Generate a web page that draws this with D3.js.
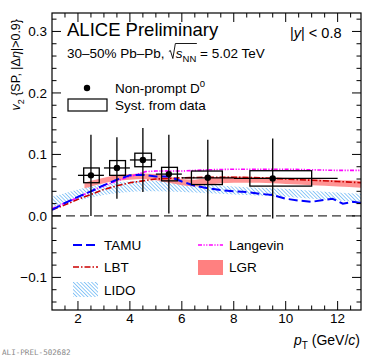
<!DOCTYPE html>
<html>
<head>
<meta charset="utf-8">
<script src="https://cdn.jsdelivr.net/npm/d3@7"></script>
<style>
  body { margin: 0; background: #fff; }
  text { font-family: "Liberation Sans", Arial, Helvetica, sans-serif; fill: #000; white-space: pre; }
</style>
</head>
<body>
<svg id="chart" width="374" height="357"></svg>
<script>
// data
const ptCenter = [2.5, 3.5, 4.5, 5.5, 7, 9.5];
const ptLow = [2, 3, 4, 5, 6, 8];
const ptHigh = [3, 4, 5, 6, 8, 12];
const v2 = [0.066, 0.078, 0.091, 0.068, 0.062, 0.061];
const statErr = [0.066, 0.050, 0.052, 0.064, 0.062, 0.065];
const systErr = [0.012, 0.012, 0.011, 0.011, 0.011, 0.0125];
const systBoxLow = [2.22, 3.22, 4.19, 5.22, 6.37, 8.62];
const systBoxHigh = [2.82, 3.83, 4.83, 5.83, 7.56, 11.0];

const tamuPt = [1, 1.5, 2, 2.5, 3, 3.5, 4, 4.5, 5, 5.5, 6, 6.5, 7, 7.5, 8, 8.5, 9, 9.5, 10, 10.5, 11, 11.5, 11.8, 12.2, 12.6, 12.9];
const tamuV2 = [0.010, 0.021, 0.031, 0.040, 0.050, 0.059, 0.066, 0.067, 0.064, 0.064, 0.056, 0.049, 0.045, 0.042, 0.040, 0.039, 0.036, 0.034, 0.028, 0.025, 0.023, 0.026, 0.028, 0.020, 0.023, 0.021];

const lbtPt = [1, 1.5, 2, 2.5, 3, 3.5, 4, 4.5, 5, 5.5, 6, 7, 8, 9, 10, 11, 12, 12.9];
const lbtV2 = [0.010, 0.018, 0.027, 0.035, 0.043, 0.049, 0.054, 0.057, 0.060, 0.061, 0.062, 0.063, 0.063, 0.062, 0.060, 0.058, 0.056, 0.054];

const langevinPt = [1, 1.5, 2, 2.5, 3, 3.5, 4, 4.3, 4.6, 5, 6, 7, 8, 9, 10, 11, 12, 12.9];
const langevinV2 = [0.012, 0.021, 0.030, 0.040, 0.049, 0.057, 0.064, 0.068, 0.072, 0.073, 0.073, 0.075, 0.076, 0.076, 0.076, 0.075, 0.074, 0.074];

const lidoPt = [1, 1.5, 2, 2.5, 3, 3.5, 4, 4.5, 5, 6, 7, 8, 9, 10, 11, 12, 12.9];
const lidoLow = [0.015, 0.020, 0.025, 0.030, 0.034, 0.037, 0.039, 0.040, 0.040, 0.039, 0.037, 0.035, 0.033, 0.031, 0.028, 0.025, 0.023];
const lidoHigh = [0.031, 0.037, 0.043, 0.048, 0.052, 0.055, 0.056, 0.057, 0.057, 0.054, 0.051, 0.048, 0.046, 0.044, 0.041, 0.038, 0.036];

const lgrPt = [2.25, 2.5, 3, 3.5, 4, 4.5, 5, 5.5, 6, 6.5, 7, 8, 9, 10, 11, 12, 12.9];
const lgrLow = [0.045, 0.048, 0.053, 0.057, 0.059, 0.060, 0.058, 0.054, 0.050, 0.048, 0.051, 0.054, 0.054, 0.052, 0.050, 0.048, 0.046];
const lgrHigh = [0.054, 0.057, 0.062, 0.066, 0.068, 0.069, 0.068, 0.064, 0.060, 0.059, 0.062, 0.064, 0.063, 0.062, 0.060, 0.058, 0.057];

const xTicks = [2, 4, 6, 8, 10, 12];
const yTicks = [-0.1, 0.0, 0.1, 0.2, 0.3];

const svg = d3.select("#chart");
const padL = 52, padR = 361, padT = 13, padB = 310;

const x = d3.scaleLinear().domain([1, 12.9]).range([padL, padR]);
const y = d3.scaleLinear().domain([-0.153, 0.33]).range([padB, padT]);

const defs = svg.append("defs");
defs.append("clipPath").attr("id", "plotclip")
  .append("rect").attr("x", padL).attr("y", padT).attr("width", padR - padL).attr("height", padB - padT);

const hatch = defs.append("pattern")
  .attr("id", "hatch")
  .attr("patternUnits", "userSpaceOnUse")
  .attr("width", 2.6).attr("height", 2.6)
  .attr("patternTransform", "rotate(-45)");
hatch.append("line")
  .attr("x1", 0).attr("y1", 0).attr("x2", 0).attr("y2", 2.6)
  .attr("stroke", "#4aa6f2").attr("stroke-width", 1.2);

// lay out a run of text pieces one after another, returns end x
function textRun(g, x0, y0, parts, size) {
  let cx = x0;
  parts.forEach(function(p) {
    const t = g.append("text")
      .attr("x", cx)
      .attr("y", y0 + (p.dy || 0))
      .style("font-size", (p.size || size) + "px")
      .style("font-style", p.italic ? "italic" : null)
      .text(p.t);
    p.x0 = cx;
    cx += t.node().getComputedTextLength();
    p.x1 = cx;
  });
  return cx;
}

// ---- plot contents ----
const plot = svg.append("g").attr("clip-path", "url(#plotclip)");

const lidoArea = d3.area()
  .x((d, i) => x(lidoPt[i]))
  .y0((d, i) => y(lidoLow[i]))
  .y1((d, i) => y(lidoHigh[i]))
  .curve(d3.curveMonotoneX);
plot.append("path").datum(lidoPt).attr("d", lidoArea).attr("fill", "url(#hatch)");

const lgrArea = d3.area()
  .x((d, i) => x(lgrPt[i]))
  .y0((d, i) => y(lgrLow[i]))
  .y1((d, i) => y(lgrHigh[i]))
  .curve(d3.curveMonotoneX);
plot.append("path").datum(lgrPt).attr("d", lgrArea).attr("fill", "#ff8080").attr("opacity", 0.85);

// zero line
plot.append("line")
  .attr("x1", padL).attr("x2", padR)
  .attr("y1", y(0)).attr("y2", y(0))
  .attr("stroke", "#000").attr("stroke-width", 1)
  .attr("stroke-dasharray", "9,5");

function modelLine(pts, vals, color, dash, width) {
  const line = d3.line()
    .x((d, i) => x(pts[i]))
    .y((d, i) => y(vals[i]));
  plot.append("path").datum(pts)
    .attr("d", line)
    .attr("fill", "none")
    .attr("stroke", color)
    .attr("stroke-width", width)
    .attr("stroke-dasharray", dash);
}
modelLine(lbtPt, lbtV2, "#cc0000", "6,2,1.5,2", 1.6);
modelLine(langevinPt, langevinV2, "#ff00ff", "4,1.5,1.2,1.5,1.2,1.5", 1.6);
modelLine(tamuPt, tamuV2, "#0000ff", "9,4", 2);

// data points
const pts = d3.range(v2.length);
plot.selectAll(".syst").data(pts).enter().append("rect")
  .attr("x", i => x(systBoxLow[i]))
  .attr("width", i => x(systBoxHigh[i]) - x(systBoxLow[i]))
  .attr("y", i => y(v2[i] + systErr[i]))
  .attr("height", i => y(v2[i] - systErr[i]) - y(v2[i] + systErr[i]))
  .attr("fill", "none").attr("stroke", "#000").attr("stroke-width", 1.3);

plot.selectAll(".ey").data(pts).enter().append("line")
  .attr("x1", i => x(ptCenter[i])).attr("x2", i => x(ptCenter[i]))
  .attr("y1", i => y(v2[i] + statErr[i])).attr("y2", i => y(v2[i] - statErr[i]))
  .attr("stroke", "#000").attr("stroke-width", 1.3);

plot.selectAll(".ex").data(pts).enter().append("line")
  .attr("x1", i => x(ptLow[i])).attr("x2", i => x(ptHigh[i]))
  .attr("y1", i => y(v2[i])).attr("y2", i => y(v2[i]))
  .attr("stroke", "#000").attr("stroke-width", 1.3);

plot.selectAll(".pt").data(pts).enter().append("circle")
  .attr("cx", i => x(ptCenter[i])).attr("cy", i => y(v2[i]))
  .attr("r", 3.2).attr("fill", "#000");

// ---- frame and ticks ----
svg.append("rect")
  .attr("x", padL).attr("y", padT).attr("width", padR - padL).attr("height", padB - padT)
  .attr("fill", "none").attr("stroke", "#000").attr("stroke-width", 1.2);

const xMinor = d3.range(1.5, 12.9, 0.5).filter(v => xTicks.indexOf(v) < 0);
const yMinor = d3.range(-0.14, 0.33, 0.02).filter(v => !yTicks.some(t => Math.abs(t - v) < 1e-6));

const tickG = svg.append("g").attr("stroke", "#000").attr("stroke-width", 1);
function vTicks(vals, len) {
  vals.forEach(function(v) {
    tickG.append("line").attr("x1", x(v)).attr("x2", x(v)).attr("y1", padB).attr("y2", padB - len);
    tickG.append("line").attr("x1", x(v)).attr("x2", x(v)).attr("y1", padT).attr("y2", padT + len);
  });
}
function hTicks(vals, len) {
  vals.forEach(function(v) {
    tickG.append("line").attr("x1", padL).attr("x2", padL + len).attr("y1", y(v)).attr("y2", y(v));
    tickG.append("line").attr("x1", padR).attr("x2", padR - len).attr("y1", y(v)).attr("y2", y(v));
  });
}
vTicks(xTicks, 9);
vTicks(xMinor, 4.5);
hTicks(yTicks, 9);
hTicks(yMinor, 4.5);

svg.append("g").selectAll("text").data(xTicks).enter().append("text")
  .attr("x", d => x(d)).attr("y", 323)
  .attr("text-anchor", "middle")
  .style("font-size", "13.5px")
  .text(d => d);

svg.append("g").selectAll("text").data(yTicks).enter().append("text")
  .attr("x", 47).attr("y", d => y(d) + 5)
  .attr("text-anchor", "end")
  .style("font-size", "13.5px")
  .text(d => d < 0 ? "\u2212" + d3.format(".1f")(-d) : d3.format(".1f")(d));

// axis titles
const xt = svg.append("g");
const xtEnd = textRun(xt, 0, 0, [
  { t: "p", italic: true },
  { t: "T", size: 10, dy: 4 },
  { t: " (GeV/" },
  { t: "c", italic: true },
  { t: ")" }
], 14);
xt.attr("transform", "translate(" + (360 - xtEnd) + ",345)");

const yt = svg.append("g");
const ytEnd = textRun(yt, 0, 0, [
  { t: "v", italic: true },
  { t: "2", size: 9, dy: 3.5 },
  { t: " {SP, |\u0394" },
  { t: "\u03b7", italic: true },
  { t: "|>0.9}" }
], 12.5);
yt.attr("transform", "translate(20," + (19 + ytEnd) + ") rotate(-90)");

// header texts
svg.append("text").attr("x", 67).attr("y", 36).style("font-size", "18.5px").text("ALICE Preliminary");

const yc = svg.append("g");
textRun(yc, 290, 38, [
  { t: "|" },
  { t: "y", italic: true },
  { t: "| < 0.8" }
], 14.5);

const sys = svg.append("g");
const sysParts = [
  { t: "30\u201350% Pb\u2013Pb, " },
  { t: "  " },
  { t: "s", italic: true },
  { t: "NN", size: 9.5, dy: 3.5 },
  { t: " = 5.02 TeV" }
];
textRun(sys, 67, 58, sysParts, 13.5);
// radical sign
const rx0 = sysParts[1].x0 + 0.5, rx1 = sysParts[3].x1 + 0.5;
sys.append("path")
  .attr("d", "M" + rx0 + ",51.5 L" + (rx0 + 1.5) + ",50.5 L" + (rx0 + 4) + ",58.5 L" + (rx0 + 6.5) + ",43.5 L" + rx1 + ",43.5")
  .attr("fill", "none").attr("stroke", "#000").attr("stroke-width", 0.9);

// top legend
svg.append("circle").attr("cx", 87).attr("cy", 88).attr("r", 3.2).attr("fill", "#000");
const nl = svg.append("g");
textRun(nl, 115, 93, [{ t: "Non-prompt D" }, { t: "0", size: 9.5, dy: -6 }], 13.5);
svg.append("rect").attr("x", 68).attr("y", 99).attr("width", 39).attr("height", 12)
  .attr("fill", "none").attr("stroke", "#000").attr("stroke-width", 1.2);
svg.append("text").attr("x", 115).attr("y", 110).style("font-size", "13.5px").text("Syst. from data");

// model legend
function legLine(x0, yy, color, dash, width) {
  svg.append("line").attr("x1", x0).attr("x2", x0 + 25).attr("y1", yy).attr("y2", yy)
    .attr("stroke", color).attr("stroke-width", width).attr("stroke-dasharray", dash);
}
legLine(73, 245, "#0000ff", "9,4", 2);
legLine(73, 267, "#cc0000", "6,2,1.5,2", 1.6);
legLine(198, 245, "#ff00ff", "4,1.5,1.2,1.5,1.2,1.5", 1.6);
svg.append("rect").attr("x", 73).attr("y", 282).attr("width", 25).attr("height", 15).attr("fill", "url(#hatch)");
svg.append("rect").attr("x", 198).attr("y", 260).attr("width", 25).attr("height", 15).attr("fill", "#ff8080");

const legText = [["TAMU", 104, 250], ["LBT", 104, 272], ["LIDO", 104, 295], ["Langevin", 229, 250], ["LGR", 229, 272]];
svg.append("g").selectAll("text").data(legText).enter().append("text")
  .attr("x", d => d[1]).attr("y", d => d[2])
  .style("font-size", "13.5px")
  .text(d => d[0]);

svg.append("text").attr("x", 2).attr("y", 355)
  .style("font-family", "'DejaVu Sans Mono', monospace")
  .style("font-size", "7.6px").style("fill", "#888")
  .text("ALI-PREL-502682");
</script>
</body>
</html>
